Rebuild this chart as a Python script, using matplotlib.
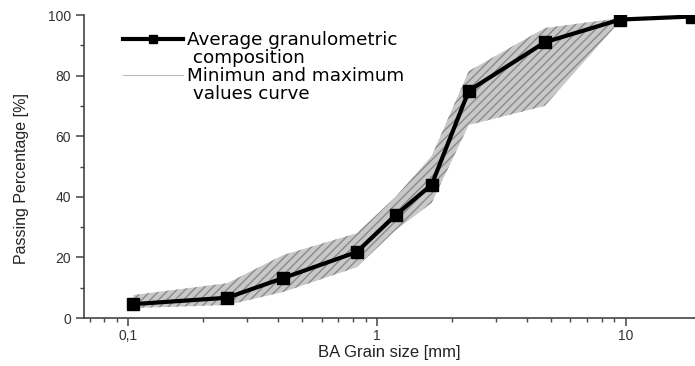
import matplotlib.pyplot as plt
from matplotlib.lines import Line2D
from matplotlib.ticker import FixedLocator, FixedFormatter, MultipleLocator, LogLocator, NullFormatter

# grain size [mm] and passing percentage [%]
size = [0.105, 0.25, 0.42, 0.83, 1.19, 1.66, 2.34, 4.73, 9.5, 18.5]
avg = [4.6, 6.7, 13.2, 21.8, 34.0, 44.0, 75.0, 91.0, 98.5, 99.5]
upper = [7.6, 11.5, 20.8, 28.0, 40.0, 53.5, 81.5, 95.7, 99.0, 99.7]
lower = [3.3, 4.3, 8.6, 16.8, 29.0, 38.0, 63.7, 70.0, 98.0, 99.3]

xticks = [0.1, 1, 10]
xticklabels = ['0,1', '1', '10']

plt.rcParams['font.family'] = ['Liberation Sans', 'DejaVu Sans']

fig = plt.figure(figsize=(6.95, 3.66), dpi=100)
ax = fig.add_axes([0.121, 0.131, 0.879, 0.828])

ax.fill_between(size, lower, upper, facecolor='#c8c8c8', edgecolor='#8a8a8a',
                hatch='////', linewidth=0, zorder=1)
ax.plot(size, avg, color='black', lw=3, marker='s', ms=9, zorder=3)

ax.set_xscale('log')
ax.set_xlim(0.0665, 19)
ax.set_ylim(0, 100)

ax.xaxis.set_major_locator(FixedLocator(xticks))
ax.xaxis.set_major_formatter(FixedFormatter(xticklabels))
ax.xaxis.set_minor_locator(LogLocator(base=10, subs=range(2, 10)))
ax.xaxis.set_minor_formatter(NullFormatter())
ax.yaxis.set_major_locator(MultipleLocator(20))
ax.yaxis.set_minor_locator(MultipleLocator(10))

for s in ['top', 'right']:
    ax.spines[s].set_visible(False)
for s in ['left', 'bottom']:
    ax.spines[s].set_color('#444444')
    ax.spines[s].set_linewidth(1.2)

ax.tick_params(which='major', direction='out', length=6, width=1.1, colors='#444444',
               labelsize=10, labelcolor='#333333')
ax.tick_params(axis='x', which='major', pad=2)
ax.tick_params(which='minor', direction='out', length=3, width=1, colors='#444444')

ax.set_xlabel('BA Grain size [mm]', fontsize=12, color='#222222', labelpad=1)
ax.set_ylabel('Passing Percentage [%]', fontsize=11.5, color='#222222')
ax.yaxis.set_label_coords(-0.09, 0.46)

# legend: label wrapped onto a second row with an empty handle
blank = Line2D([], [], alpha=0)
handles = [Line2D([], [], color='black', lw=3, marker='s', ms=6), blank,
           Line2D([], [], color='#bbbbbb', lw=0.8), blank]
labels = ['Average granulometric', ' composition', 'Minimun and maximum', ' values curve']
ax.legend(handles, labels, loc='upper left', bbox_to_anchor=(0.045, 0.982), frameon=False,
          prop={'family': 'DejaVu Sans', 'size': 13.2}, handlelength=3.3,
          handletextpad=0.2, labelspacing=-0.01, borderaxespad=0.2)

fig.savefig('out.png', dpi=100)
